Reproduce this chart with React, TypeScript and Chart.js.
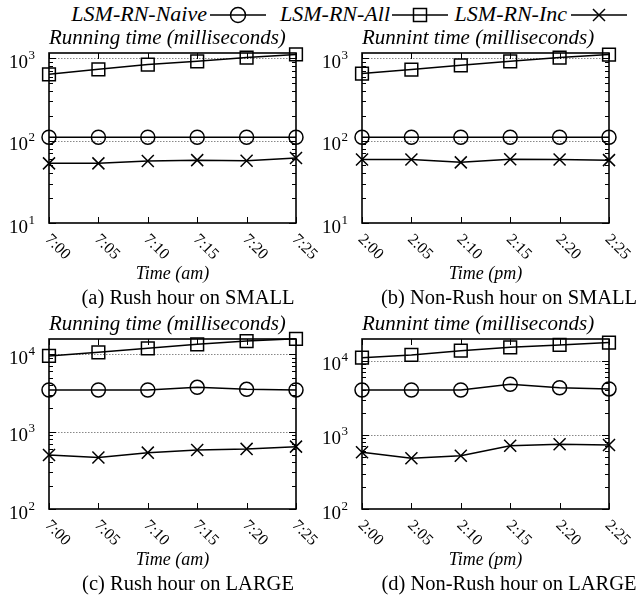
import React, { useEffect, useRef } from 'react';
import { Chart, registerables } from 'chart.js';

Chart.register(...registerables);

// ---------- data ----------
const seriesNames = ['LSM-RN-Naive', 'LSM-RN-All', 'LSM-RN-Inc'];
const amLabels = ['7:00', '7:05', '7:10', '7:15', '7:20', '7:25'];
const pmLabels = ['2:00', '2:05', '2:10', '2:15', '2:20', '2:25'];

// (a) Rush hour on SMALL
const rushSmallNaive = [110, 110, 110, 110, 110, 110];
const rushSmallAll = [640, 735, 840, 920, 1020, 1115];
const rushSmallInc = [53, 53, 56.5, 58, 57, 61.5];
// (b) Non-Rush hour on SMALL
const nonRushSmallNaive = [110, 110, 110, 110, 110, 110];
const nonRushSmallAll = [653, 730, 822, 920, 1020, 1110];
const nonRushSmallInc = [59, 59, 54.5, 59.5, 59, 58];
// (c) Rush hour on LARGE
const rushLargeNaive = [3450, 3450, 3450, 3740, 3520, 3450];
const rushLargeAll = [9500, 10600, 11950, 13450, 14830, 15850];
const rushLargeInc = [500, 462, 535, 580, 598, 640];
// (d) Non-Rush hour on LARGE
const nonRushLargeNaive = [4050, 4050, 4050, 4840, 4350, 4190];
const nonRushLargeAll = [11090, 12050, 13780, 15300, 16440, 17700];
const nonRushLargeInc = [584, 484, 525, 716, 748, 733];

const smallRange = [10, 1160];
const largeRangeRush = [100, 15750];
const largeRangeNonRush = [100, 19800];
const smallMajors = [10, 100, 1000];
const largeMajors = [100, 1000, 10000];

const titles = ['Running time (milliseconds)', 'Runnint time (milliseconds)'];
const xTitles = ['Time (am)', 'Time (pm)'];
const captions = [
  '(a) Rush hour on SMALL',
  '(b) Non-Rush hour on SMALL',
  '(c) Rush hour on LARGE',
  '(d) Non-Rush hour on LARGE',
];

const SERIF = "'Liberation Serif', 'Times New Roman', Times, serif";

type Box = { left: number; top: number; w: number; h: number };
type Area = { left: number; top: number; right: number; bottom: number };
type Panel = {
  labels: string[];
  naive: number[];
  all: number[];
  inc: number[];
  range: number[];
  majors: number[];
  title: string;
  xTitle: string;
  caption: string;
  captionX: number;
  canvas: Box;
  area: Area;
};

const panels: Panel[] = [
  {
    labels: amLabels, naive: rushSmallNaive, all: rushSmallAll, inc: rushSmallInc,
    range: smallRange, majors: smallMajors, title: titles[0], xTitle: xTitles[0], caption: captions[0],
    captionX: 188,
    canvas: { left: 0, top: 22, w: 321, h: 286 },
    area: { left: 49, top: 53, right: 296, bottom: 223 },
  },
  {
    labels: pmLabels, naive: nonRushSmallNaive, all: nonRushSmallAll, inc: nonRushSmallInc,
    range: smallRange, majors: smallMajors, title: titles[1], xTitle: xTitles[1], caption: captions[1],
    captionX: 509,
    canvas: { left: 321, top: 22, w: 321, h: 286 },
    area: { left: 362, top: 53, right: 609, bottom: 223 },
  },
  {
    labels: amLabels, naive: rushLargeNaive, all: rushLargeAll, inc: rushLargeInc,
    range: largeRangeRush, majors: largeMajors, title: titles[0], xTitle: xTitles[0], caption: captions[2],
    captionX: 188,
    canvas: { left: 0, top: 308, w: 321, h: 290 },
    area: { left: 49, top: 339, right: 296, bottom: 509 },
  },
  {
    labels: pmLabels, naive: nonRushLargeNaive, all: nonRushLargeAll, inc: nonRushLargeInc,
    range: largeRangeNonRush, majors: largeMajors, title: titles[1], xTitle: xTitles[1], caption: captions[3],
    captionX: 509,
    canvas: { left: 321, top: 308, w: 321, h: 290 },
    area: { left: 362, top: 339, right: 609, bottom: 509 },
  },
];

const superscripts: Record<number, string> = { 10: '1', 100: '2', 1000: '3', 10000: '4' };

function makeDecor(p: Panel) {
  return {
    id: 'decor',
    beforeDatasetsDraw(chart: any) {
      const ctx: CanvasRenderingContext2D = chart.ctx;
      const { left, right, top, bottom } = chart.chartArea;
      const ys = chart.scales.y;
      const xs = chart.scales.x;
      ctx.save();
      // dotted grid lines at decades
      ctx.strokeStyle = '#888';
      ctx.lineWidth = 1;
      ctx.setLineDash([1.5, 1.5]);
      for (const v of p.majors) {
        const py = Math.round(ys.getPixelForValue(v)) + 0.5;
        if (py > top + 2 && py < bottom - 2) {
          ctx.beginPath();
          ctx.moveTo(left, py);
          ctx.lineTo(right, py);
          ctx.stroke();
        }
      }
      ctx.setLineDash([]);
      ctx.strokeStyle = '#000';
      ctx.lineWidth = 1;
      // minor & major y ticks (inside, both sides)
      const [mn, mx] = p.range;
      for (let d = Math.floor(Math.log10(mn)); d <= Math.ceil(Math.log10(mx)); d++) {
        for (let k = 1; k <= 9; k++) {
          const v = k * Math.pow(10, d);
          if (v < mn || v > mx) continue;
          const py = Math.round(ys.getPixelForValue(v)) + 0.5;
          const len = k === 1 ? 7 : 4;
          ctx.beginPath();
          ctx.moveTo(left, py);
          ctx.lineTo(left + len, py);
          ctx.moveTo(right, py);
          ctx.lineTo(right - len, py);
          ctx.stroke();
        }
      }
      // x ticks (inside, top & bottom)
      p.labels.forEach((_, i) => {
        const px = Math.round(xs.getPixelForValue(i)) + 0.5;
        ctx.beginPath();
        ctx.moveTo(px, bottom);
        ctx.lineTo(px, bottom - 6);
        ctx.moveTo(px, top);
        ctx.lineTo(px, top + 6);
        ctx.stroke();
      });
      // frame
      ctx.lineWidth = 1.6;
      ctx.strokeRect(left, top, right - left, bottom - top);
      ctx.restore();
    },
    afterDatasetsDraw(chart: any) {
      const ctx: CanvasRenderingContext2D = chart.ctx;
      const { left, right, top, bottom } = chart.chartArea;
      const ys = chart.scales.y;
      const xs = chart.scales.x;
      ctx.save();
      ctx.fillStyle = '#000';
      // title
      ctx.font = `italic 21px ${SERIF}`;
      ctx.textAlign = 'left';
      ctx.textBaseline = 'alphabetic';
      ctx.fillText(p.title, left, top - 9);
      // y tick labels 10^k
      for (const v of p.majors) {
        const py = ys.getPixelForValue(v);
        const sup = superscripts[v];
        const rx = left - 14;
        ctx.textAlign = 'right';
        ctx.font = `13px ${SERIF}`;
        const sw = ctx.measureText(sup).width;
        ctx.fillText(sup, rx, py + 0.5);
        ctx.font = `19px ${SERIF}`;
        ctx.fillText('10', rx - sw - 0.5, py + 9.5);
      }
      // x tick labels rotated
      ctx.font = `16px ${SERIF}`;
      ctx.textAlign = 'left';
      ctx.textBaseline = 'middle';
      p.labels.forEach((lab, i) => {
        const px = xs.getPixelForValue(i);
        ctx.save();
        ctx.translate(px - 1.5, bottom + 14);
        ctx.rotate(Math.PI / 4);
        ctx.fillText(lab, 0, 0);
        ctx.restore();
      });
      // x axis title
      ctx.textBaseline = 'alphabetic';
      ctx.textAlign = 'center';
      ctx.font = `italic 18px ${SERIF}`;
      ctx.fillText(p.xTitle, (left + right) / 2, bottom + 56);
      // caption
      ctx.font = `20.5px ${SERIF}`;
      ctx.fillText(p.caption, p.captionX - p.canvas.left, bottom + 81);
      ctx.restore();
    },
  };
}

function PanelChart({ p }: { p: Panel }) {
  const ref = useRef<HTMLCanvasElement | null>(null);
  useEffect(() => {
    const c = ref.current;
    if (!c) return;
    const pad = {
      left: p.area.left - p.canvas.left,
      top: p.area.top - p.canvas.top,
      right: p.canvas.left + p.canvas.w - p.area.right,
      bottom: p.canvas.top + p.canvas.h - p.area.bottom,
    };
    const common = {
      borderColor: '#000',
      borderWidth: 1.5,
      pointBorderColor: '#000',
      pointBackgroundColor: 'rgba(0,0,0,0)',
      pointBorderWidth: 1.5,
      tension: 0,
      fill: false,
      clip: false,
    };
    const chart = new Chart(c, {
      type: 'line',
      data: {
        labels: p.labels,
        datasets: [
          { ...common, label: seriesNames[0], data: p.naive, pointStyle: 'circle', pointRadius: 7 },
          { ...common, label: seriesNames[1], data: p.all, pointStyle: 'rect', pointRadius: 9 },
          { ...common, label: seriesNames[2], data: p.inc, pointStyle: 'crossRot', pointRadius: 8.5 },
        ],
      },
      options: {
        responsive: false,
        maintainAspectRatio: false,
        devicePixelRatio: 1,
        animation: false,
        layout: { padding: pad },
        plugins: { legend: { display: false }, title: { display: false }, tooltip: { enabled: false } },
        scales: {
          x: { type: 'category', display: false, offset: false },
          y: { type: 'logarithmic', display: false, min: p.range[0], max: p.range[1] },
        },
      },
      plugins: [makeDecor(p)],
    } as any);
    return () => chart.destroy();
  }, [p]);
  return (
    <canvas
      ref={ref}
      width={p.canvas.w}
      height={p.canvas.h}
      style={{ position: 'absolute', left: p.canvas.left, top: p.canvas.top, width: p.canvas.w, height: p.canvas.h }}
    />
  );
}

function Legend() {
  const textStyle = (right: number): React.CSSProperties => ({
    position: 'absolute',
    right: 642 - right,
    top: 3,
    fontFamily: SERIF,
    fontStyle: 'italic',
    fontSize: 22,
    lineHeight: '22px',
    whiteSpace: 'nowrap',
    color: '#000',
  });
  const cy = 15;
  return (
    <>
      <span style={textStyle(207)}>{seriesNames[0]}</span>
      <span style={textStyle(390)}>{seriesNames[1]}</span>
      <span style={textStyle(567)}>{seriesNames[2]}</span>
      <svg width={642} height={30} style={{ position: 'absolute', left: 0, top: 0 }}>
        <g stroke="#000" strokeWidth={1.5} fill="none">
          <line x1={210} y1={cy} x2={266} y2={cy} />
          <circle cx={238} cy={cy} r={7.5} />
          <line x1={392} y1={cy} x2={448} y2={cy} />
          <rect x={420 - 6.5} y={cy - 6.5} width={13} height={13} />
          <line x1={571} y1={cy} x2={627} y2={cy} />
          <line x1={599 - 6} y1={cy - 6} x2={599 + 6} y2={cy + 6} />
          <line x1={599 - 6} y1={cy + 6} x2={599 + 6} y2={cy - 6} />
        </g>
      </svg>
    </>
  );
}

export default function App() {
  return (
    <div style={{ position: 'absolute', left: 0, top: 0, width: 642, height: 598, background: '#fff', overflow: 'hidden' }}>
      <Legend />
      {panels.map((p, i) => (
        <PanelChart key={i} p={p} />
      ))}
    </div>
  );
}
